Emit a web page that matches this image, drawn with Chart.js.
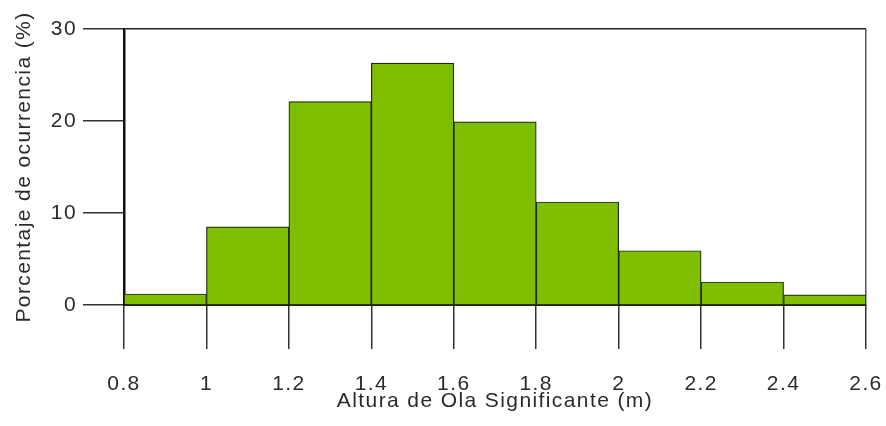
<!DOCTYPE html>
<html>
<head>
<meta charset="utf-8">
<script src="https://cdn.jsdelivr.net/npm/chart.js@4"></script>
<style>
  html, body { margin: 0; padding: 0; background: #fff; }
  #wrap { width: 886px; height: 426px; }
</style>
</head>
<body>
<div id="wrap"><canvas id="hist"></canvas></div>
<script>
// Bin centres (m) and occurrence (%)
const binCenters = [0.9, 1.1, 1.3, 1.5, 1.7, 1.9, 2.1, 2.3, 2.5];
const occurrence = [1.2, 8.5, 22.1, 26.3, 19.9, 11.2, 5.9, 2.5, 1.1];
const xTickLabels = ['0.8', '1', '1.2', '1.4', '1.6', '1.8', '2', '2.2', '2.4', '2.6'];
const yTickLabels = ['0', '10', '20', '30'];

const FONT = "'Liberation Sans', Arial, sans-serif";
const TEXT = '#2b2b2b';
const LINE = '#222';

// Canvas letter spacing (the source image text is set slightly loose)
const spacingPlugin = {
  id: 'spacing',
  beforeDraw(chart) {
    chart.ctx.letterSpacing = '1.4px';
  }
};

new Chart(document.getElementById('hist'), {
  type: 'bar',
  data: {
    datasets: [{
      data: binCenters.map((x, i) => ({ x, y: occurrence[i] })),
      backgroundColor: '#7fbe00',
      borderColor: '#1f2a14',
      borderWidth: 1.2,
      barPercentage: 1,
      categoryPercentage: 1
    }]
  },
  plugins: [spacingPlugin],
  options: {
    responsive: true,
    maintainAspectRatio: false,
    animation: false,
    layout: { autoPadding: false, padding: { left: 14, right: 20, top: 29, bottom: 15 } },
    plugins: {
      legend: { display: false },
      tooltip: { enabled: false }
    },
    scales: {
      x: {
        type: 'linear',
        min: 0.8,
        max: 2.6,
        offset: false,
        afterFit(scale) {
          scale.height = 106;
          scale.paddingLeft = 0;
          scale.paddingRight = 0;
        },
        border: { color: LINE, width: 2 },
        grid: {
          offset: false,
          color: (c) => (c.tick && Math.abs(c.tick.value - 2.6) < 1e-6) ? '#555' : 'transparent',
          tickColor: '#333',
          lineWidth: 1.5,
          tickLength: 44
        },
        ticks: {
          stepSize: 0.2,
          padding: 25,
          color: TEXT,
          font: { family: FONT, size: 21, lineHeight: 1 },
          maxRotation: 0,
          callback: (v, i) => xTickLabels[i]
        },
        title: {
          display: true,
          text: 'Altura de Ola Significante (m)',
          color: TEXT,
          font: { family: FONT, size: 21, lineHeight: 1 },
          padding: { top: 0, bottom: -1 }
        }
      },
      y: {
        min: 0,
        max: 30,
        afterFit(scale) {
          scale.width = 110;
          scale.paddingTop = 0;
          scale.paddingBottom = 0;
        },
        border: { color: '#111', width: 2.5 },
        grid: {
          color: (c) => (c.tick && (c.tick.value === 0 || c.tick.value === 30)) ? LINE : 'transparent',
          tickColor: '#333',
          lineWidth: 1.5,
          tickLength: 41
        },
        ticks: {
          stepSize: 10,
          padding: 6,
          color: TEXT,
          font: { family: FONT, size: 21, lineHeight: 1 },
          callback: (v, i) => yTickLabels[i]
        },
        title: {
          display: true,
          text: 'Porcentaje de ocurrencia (%)',
          color: TEXT,
          font: { family: FONT, size: 21, lineHeight: 1 },
          padding: 0
        }
      }
    }
  }
});
</script>
</body>
</html>
